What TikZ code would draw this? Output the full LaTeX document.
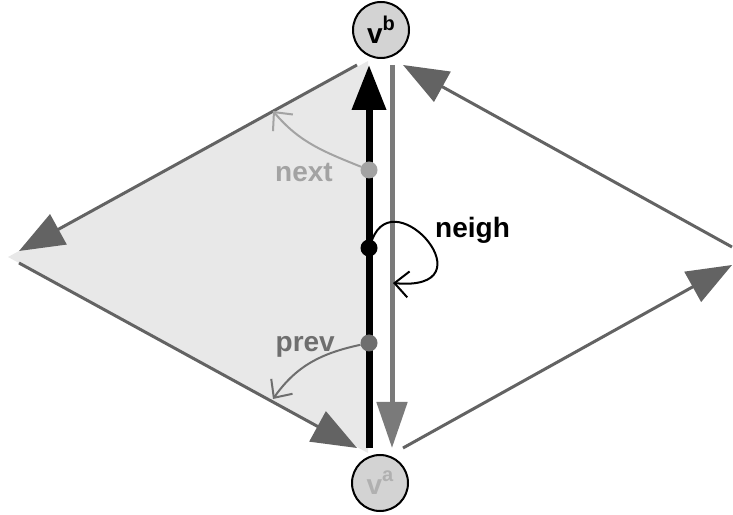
\documentclass[tikz,border=0pt]{standalone}
\usepackage{fontspec}
\setmainfont{Liberation Sans}
\usetikzlibrary{arrows.meta}
\definecolor{edgegray}{HTML}{636363}
\definecolor{twingray}{HTML}{7A7A7A}
\definecolor{nextgray}{HTML}{A3A3A3}
\definecolor{prevgray}{HTML}{6E6E6E}
\definecolor{facegray}{HTML}{E8E8E8}
\definecolor{vertgray}{HTML}{D3D3D3}
\definecolor{vatext}{HTML}{B0B0B0}
\begin{document}
\begin{tikzpicture}[x=1pt,y=1pt,
    halfedge/.style={draw=edgegray, fill=edgegray, line width=3pt, -{Triangle[length=45pt,width=34pt]}},
    ptr/.style={line width=2pt, -{Straight Barb[length=14pt,width=26pt]}},
    dot/.style={circle, inner sep=0pt, minimum size=17pt},
    lbl/.style={font=\fontsize{28}{30}\selectfont\bfseries, inner sep=0pt},
    vert/.style={circle, draw=black, line width=2pt, fill=vertgray, minimum size=56pt, inner sep=0pt,
        font=\fontsize{28}{30}\selectfont\bfseries}]

        \useasboundingbox (0,0) rectangle (733,514);

        % Define the end points of the half-edges
        \coordinate (ulS) at (357,449);
        \coordinate (ulE) at (19,263);
        \coordinate (llS) at (19,251);
        \coordinate (llE) at (357,66);
        \coordinate (lrS) at (403,66);
        \coordinate (lrE) at (732,249);
        \coordinate (urS) at (732,267);
        \coordinate (urE) at (403,449);
        \coordinate (heS) at (369,66);
        \coordinate (heE) at (369,449);
        \coordinate (twS) at (392,449);
        \coordinate (twE) at (392,66);
        \coordinate (nextE) at (273,403);
        \coordinate (prevE) at (273,115);
        \coordinate (neighE) at (393,231);

        % Left face
        \fill[facegray] (368,453) -- (8,257) -- (368,61) -- cycle;

        % Draw half-edges
        \draw[halfedge] (ulS) -- (ulE);
        \draw[halfedge] (llS) -- (llE);
        \draw[halfedge] (lrS) -- (lrE);
        \draw[halfedge] (urS) -- (urE);
        \draw[twingray, line width=5pt, -{Triangle[length=46pt,width=30pt]}] (twS) -- (twE);
        \draw[black, line width=7pt, -{Triangle[length=45pt,width=33pt]}] (heS) -- (heE);

        % Draw points
        \node[dot, fill=nextgray] (next) at (369,344) {};
        \node[dot, fill=black] (neigh) at (369,266) {};
        \node[dot, fill=prevgray] (prev) at (369,171) {};

        % Pointers
        \draw[ptr, nextgray] (next) to[out=158,in=-50] (nextE);
        \draw[ptr, prevgray] (prev) to[out=192,in=55] (prevE);
        \draw[ptr, black] (neigh) .. controls (395,335) and (492,222) .. (neighE);

        % Add labels
        \node[lbl, text=nextgray, anchor=base east] (nextlbl) at (333,332) {next};
        \node[lbl, text=prevgray, anchor=base east] (prevlbl) at (335,162) {prev};
        \node[lbl, anchor=base west] (neighlbl) at (435,276) {neigh};

        % Vertices
        \node[vert] (vb) at (381,484) {v\raisebox{13pt}{\fontsize{20}{20}\selectfont b}};
        \node[vert, text=vatext] (va) at (380,31) {v\raisebox{13pt}{\fontsize{20}{20}\selectfont a}};

\end{tikzpicture}
\end{document}
